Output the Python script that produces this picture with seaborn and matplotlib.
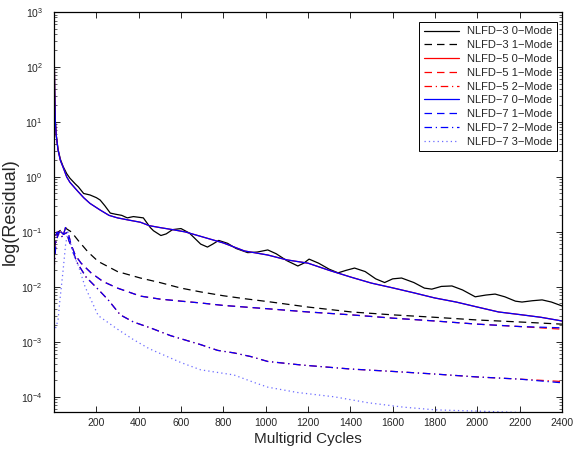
import numpy as np
import pandas as pd
import matplotlib
matplotlib.use("Agg")
import matplotlib.pyplot as plt
import seaborn as sns
from matplotlib.ticker import LogLocator, FixedLocator, NullLocator

# ---------------- data ----------------
n3_m0_x = [0, 3, 6, 10, 19, 30, 43, 60, 75, 100, 115, 140, 170, 200, 218, 240, 266, 290,
           320, 346, 375, 422, 455, 470, 505, 530, 560, 600, 640, 693, 725, 750, 778, 820,
           860, 915, 960, 1010, 1050, 1100, 1152, 1180, 1205, 1250, 1300, 1342, 1380, 1420,
           1470, 1520, 1562, 1600, 1642, 1700, 1750, 1785, 1830, 1880, 1930, 1990, 2040,
           2084, 2130, 2180, 2211, 2260, 2306, 2350, 2400]
n3_m0_y = [400, 40, 11, 6, 3.2, 2.1, 1.55, 1.15, 0.95, 0.75, 0.66, 0.5, 0.47, 0.42, 0.38,
           0.3, 0.22, 0.21, 0.2, 0.18, 0.19, 0.18, 0.12, 0.105, 0.086, 0.092, 0.11, 0.115,
           0.095, 0.06, 0.053, 0.06, 0.07, 0.062, 0.05, 0.042, 0.043, 0.047, 0.04, 0.03,
           0.024, 0.027, 0.032, 0.027, 0.021, 0.018, 0.02, 0.022, 0.019, 0.014, 0.012,
           0.014, 0.0145, 0.012, 0.0095, 0.0091, 0.0102, 0.0104, 0.0088, 0.0066, 0.0071,
           0.0074, 0.0066, 0.0055, 0.0053, 0.0056, 0.0058, 0.0053, 0.0045]

n3_m1_x = [0, 20, 50, 82, 114, 161, 209, 300, 408, 500, 600, 693, 800, 900, 1010, 1200,
           1404, 1600, 1798, 2000, 2200, 2400]
n3_m1_y = [0.05, 0.1, 0.12, 0.1, 0.07, 0.043, 0.029, 0.019, 0.0145, 0.012, 0.0095, 0.0081,
           0.0069, 0.0061, 0.0054, 0.0043, 0.0035, 0.0031, 0.0028, 0.0025, 0.0023, 0.0021]

m0_x = [0, 3, 6, 10, 19, 30, 43, 60, 75, 100, 114, 140, 170, 218, 260, 300, 350, 408, 450,
        500, 560, 620, 693, 800, 900, 1010, 1100, 1200, 1300, 1404, 1500, 1600, 1700, 1798,
        1900, 2000, 2100, 2211, 2300, 2400]
n5_m0_y = [400, 40, 11, 6, 3.1, 2.0, 1.5, 1.0, 0.8, 0.62, 0.54, 0.42, 0.33, 0.25, 0.2, 0.18,
           0.165, 0.15, 0.13, 0.12, 0.11, 0.1, 0.083, 0.063, 0.045, 0.038, 0.031, 0.027,
           0.02, 0.015, 0.0117, 0.0096, 0.0078, 0.0063, 0.0053, 0.0043, 0.0035, 0.0031,
           0.0028, 0.0024]
n7_m0_y = [400, 40, 11, 6, 3.1, 2.0, 1.5, 1.0, 0.8, 0.62, 0.54, 0.42, 0.33, 0.25, 0.2, 0.18,
           0.165, 0.15, 0.13, 0.12, 0.11, 0.1, 0.083, 0.063, 0.045, 0.038, 0.031, 0.027,
           0.02, 0.015, 0.0117, 0.0096, 0.0078, 0.0063, 0.0053, 0.0043, 0.0035, 0.0031,
           0.0028, 0.0024]

m1_x = [0, 5, 15, 25, 33, 45, 66, 80, 100, 128, 175, 232, 300, 408, 500, 600, 693, 800,
        1010, 1200, 1404, 1600, 1798, 2000, 2200, 2400]
n5_m1_y = [0.03, 0.08, 0.1, 0.085, 0.1, 0.09, 0.1, 0.06, 0.038, 0.027, 0.018, 0.0125,
           0.0095, 0.0068, 0.006, 0.0055, 0.0051, 0.0046, 0.004, 0.0035, 0.0031, 0.0027,
           0.0024, 0.0021, 0.0019, 0.0017]
n7_m1_y = [0.03, 0.08, 0.1, 0.085, 0.1, 0.09, 0.1, 0.06, 0.038, 0.027, 0.018, 0.0125,
           0.0095, 0.0068, 0.006, 0.0055, 0.0051, 0.0046, 0.004, 0.0035, 0.0031, 0.0027,
           0.0024, 0.0021, 0.0019, 0.0018]

m2_x = [0, 10, 25, 40, 55, 70, 85, 108, 152, 209, 256, 313, 375, 455, 550, 693, 773, 850,
        930, 1010, 1167, 1404, 1600, 1798, 2000, 2200, 2400]
n5_m2_y = [0.02, 0.07, 0.1, 0.08, 0.12, 0.07, 0.05, 0.028, 0.015, 0.009, 0.0058, 0.0031,
           0.0023, 0.0018, 0.0013, 0.00089, 0.0007, 0.00063, 0.00054, 0.00044, 0.00038,
           0.00032, 0.00029, 0.00026, 0.00023, 0.00021, 0.00019]
n7_m2_y = [0.02, 0.07, 0.1, 0.08, 0.12, 0.07, 0.05, 0.028, 0.015, 0.009, 0.0058, 0.0031,
           0.0023, 0.0018, 0.0013, 0.00089, 0.0007, 0.00063, 0.00054, 0.00044, 0.00038,
           0.00032, 0.00029, 0.00026, 0.00023, 0.00021, 0.00018]

n7_m3_x = [0, 10, 19, 28, 43, 55, 66, 90, 114, 147, 209, 300, 375, 450, 535, 600, 693, 850,
           950, 1010, 1150, 1325, 1485, 1650, 1800, 2000, 2200, 2400]
n7_m3_y = [0.0015, 0.0019, 0.0025, 0.0058, 0.02, 0.06, 0.1, 0.04, 0.025, 0.01, 0.003,
           0.0017, 0.0011, 0.00075, 0.00054, 0.00042, 0.00031, 0.00025, 0.00018, 0.00015,
           0.00012, 0.0001, 7.8e-5, 6.5e-5, 5.8e-5, 5.5e-5, 5.2e-5, 5.0e-5]

series_labels = ["NLFD\u22123 0\u2212Mode", "NLFD\u22123 1\u2212Mode", "NLFD\u22125 0\u2212Mode",
                 "NLFD\u22125 1\u2212Mode", "NLFD\u22125 2\u2212Mode", "NLFD\u22127 0\u2212Mode",
                 "NLFD\u22127 1\u2212Mode", "NLFD\u22127 2\u2212Mode", "NLFD\u22127 3\u2212Mode"]
x_ticks = [200, 400, 600, 800, 1000, 1200, 1400, 1600, 1800, 2000, 2200, 2400]

# ---------------- style ----------------
sns.set_style("ticks")
plt.rcParams["font.family"] = ["Liberation Sans", "DejaVu Sans"]
plt.rcParams["mathtext.fontset"] = "custom"
plt.rcParams["mathtext.rm"] = "Liberation Sans"
plt.rcParams["mathtext.it"] = "Liberation Sans:italic"
plt.rcParams["mathtext.bf"] = "Liberation Sans:bold"

fig = plt.figure(figsize=(5.74, 4.53), dpi=100)
ax = fig.add_axes([54 / 574, 41 / 453, 508 / 574, 400 / 453])

DASH = (0, (6, 4))
DASHDOT = (0, (6, 3, 1, 3))
DOT = (0, (1, 2.5))
lw = 0.9

specs = [
    (n3_m0_x, n3_m0_y, "black", "-", series_labels[0]),
    (n3_m1_x, n3_m1_y, "black", DASH, series_labels[1]),
    (m0_x, n5_m0_y, "red", "-", series_labels[2]),
    (m1_x, n5_m1_y, "red", DASH, series_labels[3]),
    (m2_x, n5_m2_y, "red", DASHDOT, series_labels[4]),
    (m0_x, n7_m0_y, "blue", "-", series_labels[5]),
    (m1_x, n7_m1_y, "blue", DASH, series_labels[6]),
    (m2_x, n7_m2_y, "blue", DASHDOT, series_labels[7]),
    (n7_m3_x, n7_m3_y, "#6a6aff", DOT, series_labels[8]),
]

handles = []
for xs, ys, col, ls, lab in specs:
    df = pd.DataFrame({"x": xs, "y": ys})
    sns.lineplot(data=df, x="x", y="y", ax=ax, color=col, linestyle=ls, linewidth=lw,
                 label=lab, legend=False)
    handles.append(ax.lines[-1])

ax.set_yscale("log")
ax.set_xlim(0, 2400)
ax.set_ylim(5.3e-5, 1e3)
ax.xaxis.set_major_locator(FixedLocator(x_ticks))
ax.xaxis.set_minor_locator(NullLocator())
ax.yaxis.set_major_locator(LogLocator(base=10, numticks=20))
ax.yaxis.set_minor_locator(LogLocator(base=10, subs=np.arange(2, 10), numticks=20))

ax.tick_params(axis="both", which="both", direction="in", top=True, right=True)
ax.tick_params(axis="x", which="major", labelsize=7.5, pad=4)
ax.tick_params(axis="y", which="major", labelsize=7.5, pad=8)
ax.tick_params(which="major", length=4, width=0.7)
ax.tick_params(which="minor", length=2, width=0.5)
for s in ax.spines.values():
    s.set_linewidth(0.9)
    s.set_color("black")

ax.set_xlabel("Multigrid Cycles", fontsize=11, labelpad=3)
ax.set_ylabel("log(Residual)", fontsize=13, labelpad=2)

leg = ax.legend(handles=handles, labels=series_labels, loc="upper right",
                bbox_to_anchor=(1 - 5 / 508, 1 - 10 / 400), borderaxespad=0,
                fontsize=8, frameon=True, fancybox=False, framealpha=1,
                edgecolor="black", borderpad=0.4, labelspacing=0.34,
                handlelength=3.2, handletextpad=0.7)
leg.get_frame().set_linewidth(0.7)

fig.savefig("out.png", dpi=100)
